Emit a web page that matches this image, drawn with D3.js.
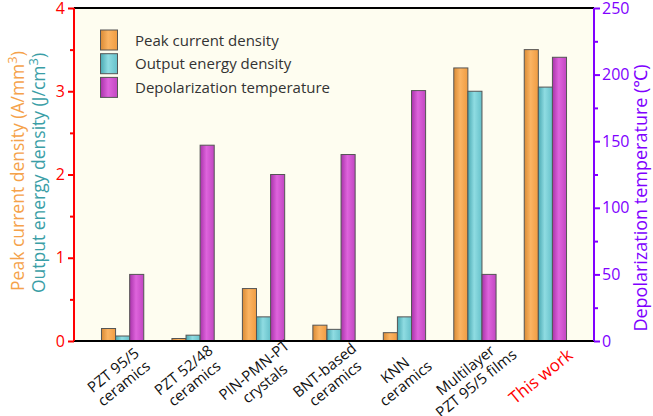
<!DOCTYPE html>
<html><head><meta charset="utf-8">
<script src="https://cdn.jsdelivr.net/npm/d3@7"></script>
<style>body{margin:0;background:#fff}svg{display:block;font-family:"Open Sans","Noto Sans",sans-serif}</style>
</head><body><svg id="c" width="653" height="416"></svg>
<script>
const categories = [["PZT 95/5","ceramics"],["PZT 52/48","ceramics"],["PIN-PMN-PT","crystals"],["BNT-based","ceramics"],["KNN","ceramics"],["Multilayer","PZT 95/5 films"],["This work"]];
const peakCurrent = [0.15, 0.03, 0.63, 0.19, 0.10, 3.28, 3.50];
const energyDensity = [0.06, 0.07, 0.29, 0.14, 0.29, 3.00, 3.05];
const depolTemp = [50, 147, 125, 140, 188, 50, 213];
const leftTicks = [0,1,2,3,4];
const rightTicks = [0,50,100,150,200,250];
const seriesNames = ["Peak current density","Output energy density","Depolarization temperature"];

const svg = d3.select("#c");
const m = {l:74, r:594, t:8, b:341};
const x0 = d3.scaleBand().domain(d3.range(categories.length)).range([m.l, m.r]).paddingInner(0.4).paddingOuter(0.39);
const x1 = d3.scaleBand().domain([0,1,2]).range([0, x0.bandwidth()]);
const yL = d3.scaleLinear().domain([0,4]).range([m.b, m.t]);
const yR = d3.scaleLinear().domain([0,250]).range([m.b, m.t]);

const colors = [
  {dark:"#d98a35", light:"#fbb463", mid:"#f09c42"},
  {dark:"#4aa9b2", light:"#8fdce2", mid:"#66c1ca"},
  {dark:"#a933aa", light:"#de64dc", mid:"#c246c2"}
];
const defs = svg.append("defs");
colors.forEach((c,i)=>{
  const g = defs.append("linearGradient").attr("id","g"+i).attr("x1","0").attr("x2","1").attr("y1","0").attr("y2","0");
  g.append("stop").attr("offset","0%").attr("stop-color",c.dark);
  g.append("stop").attr("offset","45%").attr("stop-color",c.light);
  g.append("stop").attr("offset","100%").attr("stop-color",c.mid);
});

svg.append("rect").attr("x",m.l).attr("y",m.t).attr("width",m.r-m.l).attr("height",m.b-m.t).attr("fill","#fefdf0");

// bars
const series = [
  {vals:peakCurrent, y:yL},
  {vals:energyDensity, y:yL},
  {vals:depolTemp, y:yR}
];
series.forEach((s,si)=>{
  svg.append("g").selectAll("rect").data(s.vals).join("rect")
    .attr("x",(d,i)=>x0(i)+x1(si))
    .attr("width",x1.bandwidth())
    .attr("y",d=>s.y(d))
    .attr("height",d=>m.b - s.y(d))
    .attr("fill","url(#g"+si+")")
    .attr("stroke","#555").attr("stroke-width",1);
});

// top border
svg.append("line").attr("x1",m.l).attr("x2",m.r).attr("y1",m.t).attr("y2",m.t).attr("stroke","#000").attr("stroke-width",2);
// bottom axis
svg.append("line").attr("x1",m.l).attr("x2",m.r).attr("y1",m.b).attr("y2",m.b).attr("stroke","#000").attr("stroke-width",2);

// left axis
const red = "#ff0000";
const gl = svg.append("g").attr("transform",`translate(${m.l},0)`)
  .call(d3.axisLeft(yL).tickValues(leftTicks).tickFormat(d3.format("d")).tickSize(6).tickPadding(3));
gl.append("g").call(d3.axisLeft(yL).tickValues([0.5,1.5,2.5,3.5]).tickFormat("").tickSize(4)).select(".domain").remove();
gl.selectAll("path.domain").attr("stroke",red).attr("stroke-width",2).attr("d",`M0,${m.t}V${m.b}`);
gl.selectAll("line").attr("stroke",red).attr("stroke-width",2);
gl.selectAll("text").attr("fill",red).style("font-size","16px").style("font-family","'Open Sans',sans-serif");

// right axis
const purple = "#8000ff";
const gr = svg.append("g").attr("transform",`translate(${m.r},0)`)
  .call(d3.axisRight(yR).tickValues(rightTicks).tickSize(6).tickPadding(2));
gr.append("g").call(d3.axisRight(yR).tickValues([25,75,125,175,225]).tickFormat("").tickSize(4)).select(".domain").remove();
gr.selectAll("path.domain").attr("stroke",purple).attr("stroke-width",2).attr("d",`M0,${m.t}V${m.b}`);
gr.selectAll("line").attr("stroke",purple).attr("stroke-width",2);
gr.selectAll("text").attr("fill",purple).style("font-size","16px").style("font-family","'Open Sans',sans-serif");

// left titles
function supTitle(x, y, txt, col){
  const t = svg.append("text").attr("transform",`translate(${x},${y}) rotate(-90)`)
    .attr("text-anchor","middle").attr("fill",col).style("font-size","17.5px");
  t.append("tspan").text(txt);
  t.append("tspan").attr("dy","-7").style("font-size","13px").text("3");
  t.append("tspan").attr("dy","7").text(")");
}
supTitle(24, 171, "Peak current density (A/mm", "#f5a24a");
supTitle(45, 173, "Output energy density (J/cm", "#3a9ea6");

svg.append("text").attr("transform",`translate(647,198) rotate(-90)`).attr("text-anchor","middle")
  .attr("fill",purple).style("font-size","18px").text("Depolarization temperature (℃)");

// legend
const lg = svg.append("g");
seriesNames.forEach((n,i)=>{
  const y = 30 + i*23.7;
  lg.append("rect").attr("x",100.5).attr("y",y).attr("width",17).attr("height",20)
    .attr("fill","url(#g"+i+")").attr("stroke","#555");
  lg.append("text").attr("x",135).attr("y",y+15.5).attr("fill","#333").style("font-size","15px").text(n);
});

// x labels
categories.forEach((lines,i)=>{
  const cx = x0(i) + x0.bandwidth()/2;
  const isThis = lines[0]==="This work";
  const g = svg.append("g").attr("transform",`translate(${cx-4},${377}) rotate(-39)`);
  const lh = 17;
  const n = lines.length;
  lines.forEach((ln,k)=>{
    g.append("text").attr("x",0).attr("y",(k-(n-1)/2)*lh + 5).attr("text-anchor","middle")
      .attr("fill", isThis? "#ff0000" : "#111").style("font-size", isThis? "17px":"15px").text(ln);
  });
});
</script></body></html>
